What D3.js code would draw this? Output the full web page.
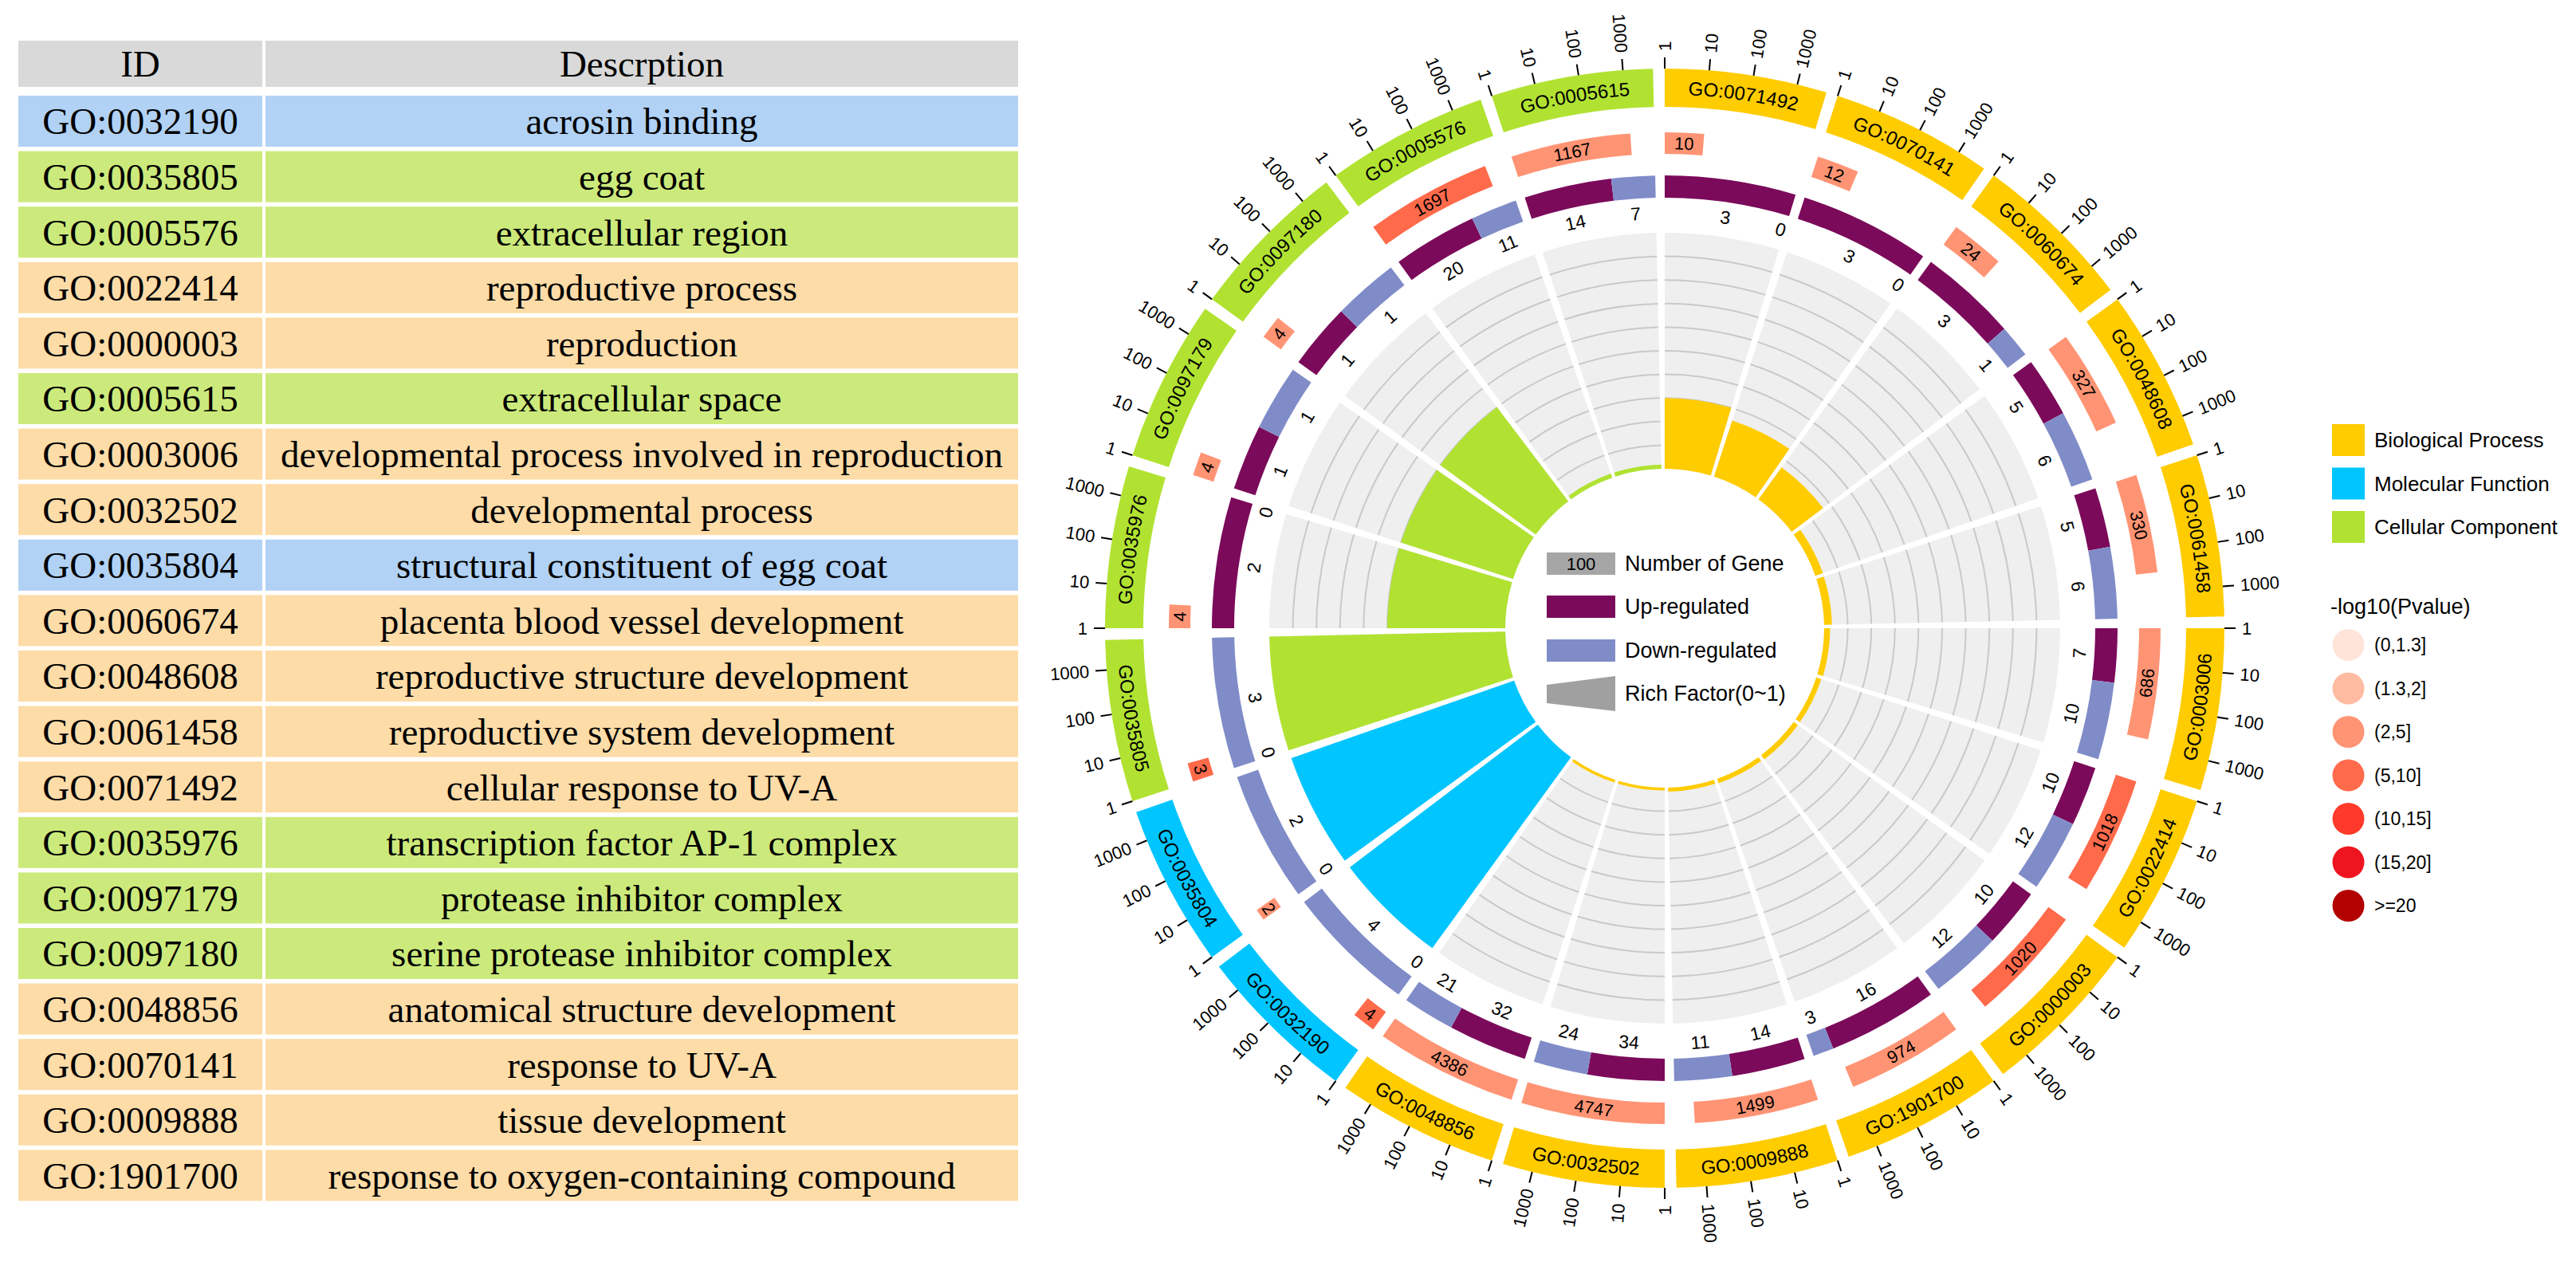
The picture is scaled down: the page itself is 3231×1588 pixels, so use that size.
<!DOCTYPE html>
<html><head><meta charset="utf-8">
<script src="https://cdn.jsdelivr.net/npm/d3@7"></script>
<style>body{margin:0;background:#fff;} svg{display:block;}</style>
</head><body>
<svg id="chart" width="3231" height="1588" xmlns="http://www.w3.org/2000/svg"></svg>
<script>
// ---------------- DATA ----------------
const sectorIds = ["GO:0071492","GO:0070141","GO:0060674","GO:0048608","GO:0061458","GO:0003006","GO:0022414","GO:0000003","GO:1901700","GO:0009888","GO:0032502","GO:0048856","GO:0032190","GO:0035804","GO:0035805","GO:0035976","GO:0097179","GO:0097180","GO:0005576","GO:0005615"];
const sectorCategory = ["BP","BP","BP","BP","BP","BP","BP","BP","BP","BP","BP","BP","MF","MF","CC","CC","CC","CC","CC","CC"];
const geneNumber = [10,12,24,327,330,686,1018,1020,974,1499,4747,4386,4,2,3,4,4,4,1697,1167];
const upRegulated = [3,3,3,5,5,7,10,10,16,14,34,32,0,0,0,2,1,1,20,14];
const downRegulated = [0,0,1,6,6,10,12,12,3,11,24,21,4,2,3,0,1,1,11,7];
const richFactor = [0.300,0.250,0.167,0.034,0.033,0.025,0.022,0.022,0.020,0.017,0.012,0.012,1.000,1.000,1.000,0.500,0.500,0.500,0.018,0.018];
const negLog10P = [3.3,2.4,3.9,3.7,3.5,4.5,5.6,5.3,2.1,2.3,4.3,2.6,7.9,4.1,6.9,3.1,2.9,2.8,6.2,4.8];

const tableIds = ["GO:0032190","GO:0035805","GO:0005576","GO:0022414","GO:0000003","GO:0005615","GO:0003006","GO:0032502","GO:0035804","GO:0060674","GO:0048608","GO:0061458","GO:0071492","GO:0035976","GO:0097179","GO:0097180","GO:0048856","GO:0070141","GO:0009888","GO:1901700"];
const tableDescriptions = ["acrosin binding","egg coat","extracellular region","reproductive process","reproduction","extracellular space","developmental process involved in reproduction","developmental process","structural constituent of egg coat","placenta blood vessel development","reproductive structure development","reproductive system development","cellular response to UV-A","transcription factor AP-1 complex","protease inhibitor complex","serine protease inhibitor complex","anatomical structure development","response to UV-A","tissue development","response to oxygen-containing compound"];
const tableCategory = ["MF","CC","CC","BP","BP","CC","BP","BP","MF","BP","BP","BP","BP","CC","CC","CC","BP","BP","BP","BP"];
const tableHeaders = ["ID","Descrption"];

const categoryKeys = ["BP","MF","CC"];
const categoryNames = ["Biological Process","Molecular Function","Cellular Component"];
const logTickValues = [1,10,100,1000];
const pvalueBins = ["(0,1.3]","(1.3,2]","(2,5]","(5,10]","(10,15]","(15,20]",">=20"];
const pvalueThresholds = [1.3,2,5,10,15,20];
const centerLegendLabels = ["Number of Gene","Up-regulated","Down-regulated","Rich Factor(0~1)"];

// ---------------- STYLES ----------------
const catColor = d3.scaleOrdinal(categoryKeys, ["#FFCC00","#00C5FF","#B1E232"]);
const tableColor = d3.scaleOrdinal(categoryKeys, ["#FDDCA8","#B1D2F5","#CCEA7B"]);
const pColor = d3.scaleThreshold(pvalueThresholds, ["#FFE4DA","#FFBBA1","#FF9474","#FF6A4B","#FF3A2A","#EE1520","#B30000"]);
const UP = "#7B0A5A", DOWN = "#808CC8";
const SANS = "'Liberation Sans', Arial, sans-serif";
const SERIF = "'Liberation Serif', 'Times New Roman', serif";

const svg = d3.select("#chart");

// ---------------- TABLE ----------------
const colX = [23, 333], colW = [306, 944];
const headY = 51, headH = 58, rowY0 = 120, rowPitch = 69.6, rowH = 64;
const tableFs = 47;
const tg = svg.append("g");
tableHeaders.forEach((h, j) => {
  tg.append("rect").attr("x", colX[j]).attr("y", headY).attr("width", colW[j]).attr("height", headH).attr("fill", "#D9D9D9");
  tg.append("text").attr("x", colX[j] + colW[j] / 2).attr("y", headY + headH / 2).attr("dy", "0.35em")
    .attr("text-anchor", "middle").attr("font-family", SERIF).attr("font-size", tableFs).text(h);
});
tableIds.forEach((id, i) => {
  const y = rowY0 + i * rowPitch;
  const cells = [id, tableDescriptions[i]];
  cells.forEach((t, j) => {
    tg.append("rect").attr("x", colX[j]).attr("y", y).attr("width", colW[j]).attr("height", rowH).attr("fill", tableColor(tableCategory[i]));
    tg.append("text").attr("x", colX[j] + colW[j] / 2).attr("y", y + rowH / 2).attr("dy", "0.35em")
      .attr("text-anchor", "middle").attr("font-family", SERIF).attr("font-size", tableFs).text(t);
  });
});

// ---------------- CIRCOS ----------------
const cx = 2088, cy = 788;
const g = svg.append("g").attr("transform", `translate(${cx},${cy})`);
const band = d3.scaleBand().domain(sectorIds).range([0, 2 * Math.PI]);
const gap = 1.2 * Math.PI / 180;
const span = band.bandwidth() - gap;
const logPos = d3.scaleLog().domain([1, d3.max(geneNumber)]).range([0, span]);
const R = { ringIn: 654, ringOut: 702, tickOut: 716, tickLab: 724, numIn: 595, numOut: 622, udIn: 540, udOut: 568, udLab: 521, innerIn: 200, innerOut: 496 };
const rich = d3.scaleLinear().domain([0, 1]).range([R.innerIn, R.innerOut]);
const arc = d3.arc();
const deg = a => a * 180 / Math.PI;
const pt = (a, r) => [r * Math.sin(a), -r * Math.cos(a)];

const sectors = sectorIds.map((id, i) => ({
  id, i, cat: sectorCategory[i], n: geneNumber[i], up: upRegulated[i], down: downRegulated[i],
  rf: richFactor[i], p: negLog10P[i], s: band(id), e: band(id) + span
}));

function tangentT(a, r) {
  const d = deg(a);
  const flip = d > 90 && d < 270;
  return `rotate(${d}) translate(0,${-r})` + (flip ? " rotate(180)" : "");
}

// inner background
g.selectAll("path.bg").data(sectors).join("path")
  .attr("d", d => arc({ innerRadius: R.innerIn, outerRadius: R.innerOut, startAngle: d.s, endAngle: d.e }))
  .attr("fill", "#EFEFEF");
// grid lines
const gridVals = rich.ticks(10).filter(t => t > 0 && t < 1);
sectors.forEach(d => {
  gridVals.forEach(t => {
    const r = rich(t);
    const p1 = pt(d.s, r), p2 = pt(d.e, r);
    g.append("path").attr("d", `M${p1[0]},${p1[1]} A${r},${r} 0 0 1 ${p2[0]},${p2[1]}`)
      .attr("fill", "none").attr("stroke", "#C9C9C9").attr("stroke-width", 2);
  });
});
// rich factor bars
g.selectAll("path.rf").data(sectors).join("path")
  .attr("d", d => arc({ innerRadius: R.innerIn, outerRadius: rich(d.rf), startAngle: d.s, endAngle: d.e }))
  .attr("fill", d => catColor(d.cat));

// up / down track
sectors.forEach(d => {
  const tot = d.up + d.down;
  const ud = d3.scaleLinear().domain([0, tot]).range([d.s, d.e]);
  if (d.up > 0) g.append("path").attr("d", arc({ innerRadius: R.udIn, outerRadius: R.udOut, startAngle: ud(0), endAngle: ud(d.up) })).attr("fill", UP);
  if (d.down > 0) g.append("path").attr("d", arc({ innerRadius: R.udIn, outerRadius: R.udOut, startAngle: ud(d.up), endAngle: ud(tot) })).attr("fill", DOWN);
  const off = 0.6 * Math.PI / 180;
  const aUp = d.up > 0 ? (ud(0) + ud(d.up)) / 2 : d.s + off;
  const aDn = d.down > 0 ? (ud(d.up) + ud(tot)) / 2 : d.e - off;
  [[aUp, d.up], [aDn, d.down]].forEach(([a, v]) => {
    g.append("text").attr("transform", tangentT(a, R.udLab)).attr("dy", "0.35em").attr("text-anchor", "middle")
      .attr("font-family", SANS).attr("font-size", 23).attr("fill", "#000").text(v);
  });
});

// gene number track
sectors.forEach(d => {
  const a1 = d.s + logPos(d.n);
  g.append("path").attr("d", arc({ innerRadius: R.numIn, outerRadius: R.numOut, startAngle: d.s, endAngle: a1 })).attr("fill", pColor(d.p));
  g.append("text").attr("transform", tangentT((d.s + a1) / 2, (R.numIn + R.numOut) / 2)).attr("dy", "0.35em")
    .attr("text-anchor", "middle").attr("font-family", SANS).attr("font-size", 22).attr("fill", "#000").text(d.n);
});

// outer category ring
g.selectAll("path.ring").data(sectors).join("path")
  .attr("d", d => arc({ innerRadius: R.ringIn, outerRadius: R.ringOut, startAngle: d.s, endAngle: d.e }))
  .attr("fill", d => catColor(d.cat));
const defs = svg.append("defs");
const ringFs = 24;
sectors.forEach(d => {
  const mid = deg((d.s + d.e) / 2);
  const flip = mid > 90 && mid < 270;
  const rm = (R.ringIn + R.ringOut) / 2;
  const rb = flip ? rm + 0.358 * ringFs : rm - 0.358 * ringFs;
  const p1 = pt(d.s, rb), p2 = pt(d.e, rb);
  const dstr = flip ? `M${p2[0]},${p2[1]} A${rb},${rb} 0 0 0 ${p1[0]},${p1[1]}` : `M${p1[0]},${p1[1]} A${rb},${rb} 0 0 1 ${p2[0]},${p2[1]}`;
  const pid = "lp" + d.i;
  defs.append("path").attr("id", pid).attr("d", dstr).attr("transform", `translate(${cx},${cy})`);
  svg.append("text").attr("font-family", SANS).attr("font-size", ringFs).attr("fill", "#000")
    .append("textPath").attr("href", "#" + pid).attr("startOffset", "50%").attr("text-anchor", "middle").text(d.id);
});

// log ticks
sectors.forEach(d => {
  logTickValues.forEach(v => {
    const a = d.s + logPos(v);
    const q1 = pt(a, R.ringOut), q2 = pt(a, R.tickOut);
    g.append("line").attr("x1", q1[0]).attr("y1", q1[1]).attr("x2", q2[0]).attr("y2", q2[1]).attr("stroke", "#000").attr("stroke-width", 2);
    const dd = deg(a);
    const right = dd < 180;
    g.append("text")
      .attr("transform", right ? `rotate(${dd - 90}) translate(${R.tickLab},0)` : `rotate(${dd + 90}) translate(${-R.tickLab},0)`)
      .attr("text-anchor", right ? "start" : "end").attr("dy", "0.35em")
      .attr("font-family", SANS).attr("font-size", 22).attr("fill", "#000").text(v);
  });
});

// center legend
const lg = svg.append("g");
const boxX = 1940, boxW = 86, boxH = 28, txtX = 2038;
const rowsY = [693, 747, 802];
const boxFills = ["#A6A6A6", UP, DOWN];
rowsY.forEach((y, i) => {
  lg.append("rect").attr("x", boxX).attr("y", y).attr("width", boxW).attr("height", boxH).attr("fill", boxFills[i]);
  lg.append("text").attr("x", txtX).attr("y", y + boxH / 2).attr("dy", "0.35em").attr("font-family", SANS).attr("font-size", 27).text(centerLegendLabels[i]);
});
lg.append("text").attr("x", boxX + boxW / 2).attr("y", rowsY[0] + boxH / 2).attr("dy", "0.35em").attr("text-anchor", "middle")
  .attr("font-family", SANS).attr("font-size", 22).text("100");
lg.append("path").attr("d", `M${boxX},859 L${boxX + boxW},848 L${boxX + boxW},892 L${boxX},882 Z`).attr("fill", "#A0A0A0");
lg.append("text").attr("x", txtX).attr("y", 870).attr("dy", "0.35em").attr("font-family", SANS).attr("font-size", 27).text(centerLegendLabels[3]);

// right legend
const rg = svg.append("g");
categoryKeys.forEach((k, i) => {
  const y = 532 + i * 54.5;
  rg.append("rect").attr("x", 2925).attr("y", y).attr("width", 41).attr("height", 40).attr("fill", catColor(k));
  rg.append("text").attr("x", 2978).attr("y", y + 20).attr("dy", "0.35em").attr("font-family", SANS).attr("font-size", 26).text(categoryNames[i]);
});
rg.append("text").attr("x", 2923).attr("y", 761).attr("dy", "0.35em").attr("font-family", SANS).attr("font-size", 27).text("-log10(Pvalue)");
pvalueBins.forEach((b, i) => {
  const y = 809 + i * 54.5;
  rg.append("circle").attr("cx", 2945.5).attr("cy", y).attr("r", 20).attr("fill", pColor.range()[i]);
  rg.append("text").attr("x", 2978).attr("y", y).attr("dy", "0.35em").attr("font-family", SANS).attr("font-size", 23).text(b);
});
</script>
</body></html>
